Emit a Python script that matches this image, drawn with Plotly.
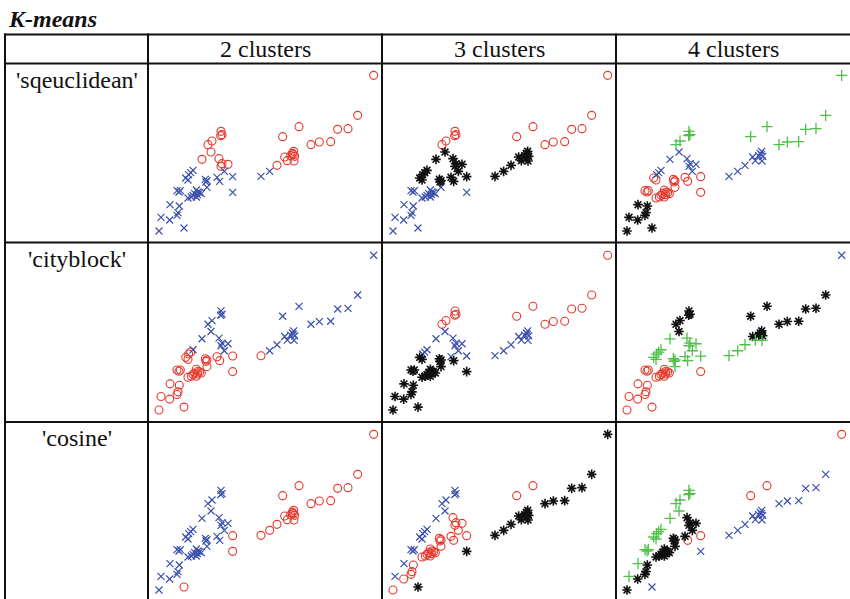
import plotly.graph_objects as go

# ---- shared 2-D sample (same points in every panel) ----
x = [67.7, 62.9, 60.0, 56.9, 45.3, 40.4, 54.8, 51.4, 48.9,          # A: upper right line
     43.7, 43.3, 42.8, 44.0, 41.0, 41.8, 43.8, 43.6,                # B: right dense group
     38.7, 36.5, 33.9,                                              # C: bridge
     21.9, 22.2, 21.8, 19.2, 18.0, 18.9, 16.2, 21.3, 22.2, 21.9, 24.0,   # D: left upper
     22.9, 25.4, 25.4, 20.7, 21.5, 13.5, 12.8, 12.2, 11.3, 12.0,    # E: left middle
     17.2, 17.7, 17.4, 17.7, 8.7, 9.7, 9.3,
     14.5, 15.0, 14.0, 13.5, 14.5, 15.5, 13.0, 12.0, 16.0, 14.8,    # F: left dense group
     6.6, 9.4, 9.0, 8.7, 3.9, 6.5, 10.8, 3.3]                       # G: lower left
y = [50.0, 38.0, 34.0, 33.8, 34.6, 31.6, 30.1, 30.0, 29.2,
     27.2, 26.6, 25.9, 25.7, 25.5, 24.4, 24.3, 26.2,
     23.0, 21.2, 19.7,
     33.2, 32.2, 31.9, 30.3, 29.2, 27.0, 24.8, 25.0, 23.5, 22.7, 23.3,
     21.2, 19.6, 14.9, 19.4, 18.2, 21.5, 20.8, 20.2, 19.2, 18.6,
     18.8, 18.4, 18.0, 16.4, 15.4, 15.4, 15.0,
     15.6, 15.0, 14.5, 14.0, 13.5, 14.8, 13.5, 13.2, 14.5, 14.2,
     11.2, 10.8, 8.8, 8.0, 7.4, 6.6, 4.2, 3.3]

# ---- cluster assignments, one string per (distance, k); groups A|B|C|D|E|F|G ----
distances = ["'sqeuclidean'", "'cityblock'", "'cosine'"]
cluster_counts = ["2 clusters", "3 clusters", "4 clusters"]
labels = {
    ("'sqeuclidean'", "2 clusters"): "rrrrrrrrr|rrrrrrrr|rbb|rrrrrrrrrrr|bbbbbbbbbbbbbbbbb|bbbbbbbbbb|bbbbbbbb",
    ("'sqeuclidean'", "3 clusters"): "rrrrrrrrr|kkkkkkkk|kkk|rrrrrkkkkkk|kkbkkkkkkkkkkbbbb|bbbbbbbbbb|bbbbbbbb",
    ("'sqeuclidean'", "4 clusters"): "ggggggggg|bbbbbbbb|bbb|gggggbbbbbb|brrrrbbbrrrrrrrrr|rrrrrrrrrr|kkkkkkkk",
    ("'cityblock'", "2 clusters"):   "bbbbbbbbb|bbbbbbbb|bbr|bbbbbbbbbbb|brrrrbrrrrrrrrrrr|rrrrrrrrrr|rrrrrrrr",
    ("'cityblock'", "3 clusters"):   "rrrrrrrrr|bbbbbbbb|bbb|rrrrrbbbbbb|bbkbkbbbkkkkkkkkk|kkkkkkkkkk|kkkkkkkk",
    ("'cityblock'", "4 clusters"):   "bkkkkkkkk|kkkkkggk|ggg|kkkkkkggggg|ggrgggggggggggrrr|rrrrrrrrrr|rrrrrrrr",
    ("'cosine'", "2 clusters"):      "rrrrrrrrr|rrrrrrrr|rrr|bbbbbbbbbbb|brrbbbbbbbbbbbbbb|bbbbbbbbbb|bbbbbbrb",
    ("'cosine'", "3 clusters"):      "kkkkrrkkk|kkkkkkkk|kkk|bbbbbbbrrrr|rrkrrbbbbbrrrrbbb|rrrrrrrrrr|brrrbrkr",
    ("'cosine'", "4 clusters"):      "rbbbrrbbb|bbbbbbbb|bbb|gggggggkkkk|krbkrgggggkkkkggg|kkkkkkkkkk|gkkkgkbk",
}

# marker style for each cluster code
styles = {
    "r": dict(symbol="circle-open", color="#e63a2e", size=8, lw=1.1),
    "b": dict(symbol="x-thin-open", color="#3b50ad", size=7, lw=1.2),
    "k": dict(symbol="asterisk-open", color="#111111", size=8, lw=1.6),
    "g": dict(symbol="cross-thin-open", color="#4fc04a", size=8, lw=1.3),
}

W, H = 850, 599
col_edges = [148, 382, 616, 850]
row_edges = [62, 242, 421, 599]
row_ranges = [[0, 54], [0, 54], [0.6, 54]]


def px(v):
    return v / W


def py(v):
    return 1 - v / H


fig = go.Figure()
layout_axes = {}
n = 0
for r, dist in enumerate(distances):
    for c, kname in enumerate(cluster_counts):
        n += 1
        xa = "x" if n == 1 else f"x{n}"
        ya = "y" if n == 1 else f"y{n}"
        code = labels[(dist, kname)].replace("|", "")
        for key, st in styles.items():
            idx = [i for i, ch in enumerate(code) if ch == key]
            if not idx:
                continue
            fig.add_trace(go.Scatter(
                x=[x[i] for i in idx], y=[y[i] for i in idx],
                mode="markers", xaxis=xa, yaxis=ya, showlegend=False,
                marker=dict(symbol=st["symbol"], size=st["size"],
                            color=st["color"], line=dict(width=st["lw"], color=st["color"])),
            ))
        layout_axes["xaxis" if n == 1 else f"xaxis{n}"] = dict(
            domain=[px(col_edges[c]), px(col_edges[c + 1])], range=[0, 70.2],
            visible=False, anchor=ya)
        layout_axes["yaxis" if n == 1 else f"yaxis{n}"] = dict(
            domain=[py(row_edges[r + 1]), py(row_edges[r])], range=row_ranges[r],
            visible=False, anchor=xa)

fig.update_layout(**layout_axes)

# table rules
lines = []
for yy in [34.5, 63.5, 242.5, 422]:
    lines.append(dict(type="line", xref="paper", yref="paper",
                      x0=px(4), x1=px(851), y0=py(yy), y1=py(yy),
                      line=dict(color="#111111", width=2)))
for xx in [5, 148, 382, 616]:
    lines.append(dict(type="line", xref="paper", yref="paper",
                      x0=px(xx), x1=px(xx), y0=py(33.5), y1=py(600),
                      line=dict(color="#111111", width=2)))

serif = "Liberation Serif"
ann = [dict(text="<b><i>K-means</i></b>", x=px(6), y=py(19), xref="paper", yref="paper",
            xanchor="left", yanchor="middle", showarrow=False,
            font=dict(family=serif, size=24, color="#111111"))]
for c, kname in enumerate(cluster_counts):
    ann.append(dict(text=kname, x=px((col_edges[c] + col_edges[c + 1]) / 2), y=py(49),
                    xref="paper", yref="paper", xanchor="center", yanchor="middle",
                    showarrow=False, font=dict(family=serif, size=24, color="#111111")))
for r, dist in enumerate(distances):
    ann.append(dict(text=dist, x=px(76.5), y=py([80, 259, 438][r]),
                    xref="paper", yref="paper", xanchor="center", yanchor="middle",
                    showarrow=False, font=dict(family=serif, size=24, color="#111111")))

fig.update_layout(width=W, height=H, margin=dict(l=0, r=0, t=0, b=0),
                  paper_bgcolor="white", plot_bgcolor="white",
                  font=dict(family=serif),
                  shapes=lines, annotations=ann)

fig.write_html("out.html")
